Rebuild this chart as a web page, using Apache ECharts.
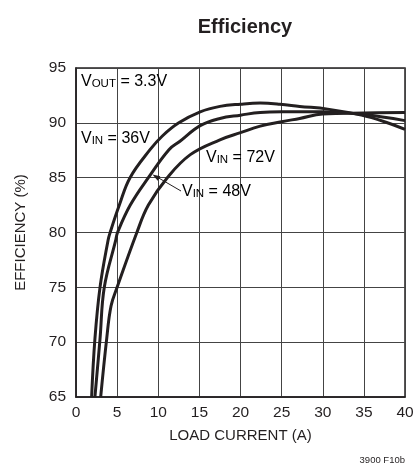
<!DOCTYPE html>
<html>
<head>
<meta charset="utf-8">
<script src="https://cdn.jsdelivr.net/npm/echarts@6/dist/echarts.min.js"></script>
<style>
html,body{margin:0;padding:0;background:#fff;}
#chart{width:417px;height:474px;}
</style>
</head>
<body>
<div id="chart"></div>
<script>
// Load current (A) and efficiency (%)
const vin36 = [[1.9,65],[2.3,70.3],[2.92,75],[3.9,79.3],[4.15,80],[5.27,82.5],[6.57,85],[9.0,87.55],[10.5,88.8],[12.5,90],[15.1,91.0],[17.5,91.5],[20,91.7],[22.4,91.8],[24.8,91.7],[27.2,91.5],[30.6,91.25],[34.7,90.7],[37.5,90.1],[40,89.4]];
const vin48 = [[2.3,65],[2.92,70.3],[3.44,75],[4.83,79.3],[5.05,80],[6.6,82.5],[8.8,85],[11.3,87.55],[12.6,88.3],[15.1,89.75],[17.5,90.4],[20,90.7],[22.4,90.95],[25,91.0],[27.2,91.0],[30,91.0],[35,90.75],[40,90.2]];
const vin72 = [[3.0,65],[3.73,70.3],[4.26,73.3],[5.0,75],[7.4,80],[8.8,82.5],[11.1,85],[13.9,87.1],[17.5,88.45],[20,89.1],[22.4,89.7],[25,90.1],[27.2,90.4],[30,90.8],[35,90.9],[40,90.95]];
const xTicks = {min:0, max:40, interval:5};
const yTicks = {min:65, max:95, interval:5};

const FONT = '"Liberation Sans Narrow", "Arial Narrow", "Liberation Sans", sans-serif';
const INK = '#231f20';

const chart = echarts.init(document.getElementById('chart'), null, {renderer:'canvas'});

function seriesOf(name, data){
  return {name, type:'line', data, smooth:0.4, symbol:'none',
    lineStyle:{color:INK, width:3}, clip:true, z:3};
}

function subLabel(main, sub, rest){
  return '{m|' + main + '}{s|' + sub + '}{m|' + rest + '}';
}
const rich = {
  m:{fontFamily:FONT, fontSize:16, color:INK, padding:[0,0,4,0]},
  s:{fontFamily:FONT, fontSize:11.5, color:INK}
};

chart.setOption({
  animation:false,
  title:{text:'Efficiency', left:240, top:12, textAlign:'center',
    textStyle:{fontFamily:FONT, fontSize:20, fontWeight:'bold', color:INK}},
  grid:{left:76, right:12, top:68, bottom:77, show:true, borderColor:INK, borderWidth:1.5, backgroundColor:'transparent'},
  xAxis:{type:'value', min:xTicks.min, max:xTicks.max, interval:xTicks.interval,
    name:'LOAD CURRENT (A)', nameLocation:'middle', nameGap:31,
    nameTextStyle:{fontFamily:FONT, fontSize:15, color:INK},
    axisLine:{show:true, lineStyle:{color:INK, width:1.5}}, axisTick:{show:false},
    axisLabel:{margin:8, fontFamily:FONT, fontSize:15.5, color:INK},
    splitLine:{show:true, lineStyle:{color:'#444', width:1}}},
  yAxis:{type:'value', min:yTicks.min, max:yTicks.max, interval:yTicks.interval,
    name:'EFFICIENCY (%)', nameLocation:'middle', nameGap:48,
    nameTextStyle:{fontFamily:FONT, fontSize:15, color:INK},
    axisLine:{show:true, lineStyle:{color:INK, width:1.5}}, axisTick:{show:false},
    axisLabel:{margin:10, fontFamily:FONT, fontSize:15.5, color:INK},
    splitLine:{show:true, lineStyle:{color:'#444', width:1}}},
  series:[seriesOf('VIN = 36V', vin36), seriesOf('VIN = 48V', vin48), seriesOf('VIN = 72V', vin72)],
  graphic:[
    {type:'text', left:81, top:74, z:10, style:{text:subLabel('V','OUT',' = 3.3V'), rich}},
    {type:'text', left:81, top:131, z:10, style:{text:subLabel('V','IN',' = 36V'), rich}},
    {type:'text', left:206, top:150, z:10, style:{text:subLabel('V','IN',' = 72V'), rich}},
    {type:'text', left:182, top:184, z:10, style:{text:subLabel('V','IN',' = 48V'), rich}},
    {type:'line', z:10, shape:{x1:181, y1:191, x2:157, y2:177}, style:{stroke:INK, lineWidth:1}},
    {type:'polygon', z:10, shape:{points:[[152.5,174.5],[160.3,176.2],[157.7,180.7]]}, style:{fill:INK}},
    {type:'text', right:12, top:455, z:10, style:{text:'3900 F10b', fontFamily:FONT, fontSize:9.5, fill:INK}}
  ]
});
</script>
</body>
</html>
